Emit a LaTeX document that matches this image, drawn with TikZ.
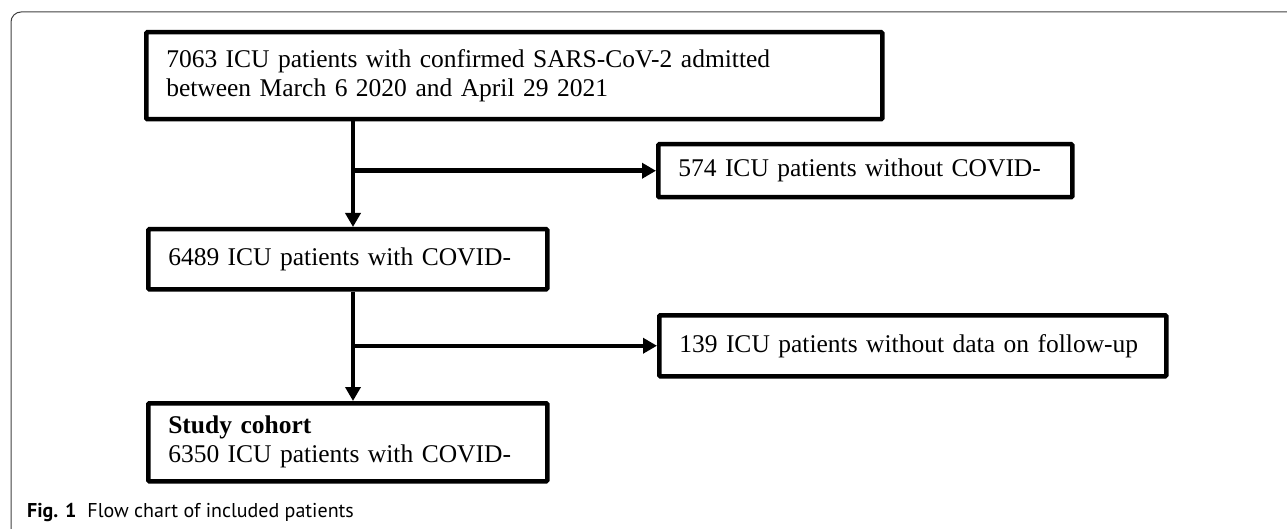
\documentclass[tikz,border=0pt]{standalone}
\usepackage{fontspec}
\setmainfont{Liberation Serif}
\newfontfamily\capfont{PT Sans}
\usetikzlibrary{arrows.meta}

\tikzset{
  box/.style={draw, line width=4.5pt, rounded corners=1pt, anchor=north west,
    align=left, inner xsep=20pt, inner ysep=0pt,
    font=\fontsize{25.5}{29}\selectfont},
  flow/.style={line width=4.5pt, -{Triangle[length=14pt,width=15pt]}},
}

\begin{document}
\begin{tikzpicture}[x=1pt,y=-1pt]
        \useasboundingbox (0,0) rectangle (1287,529);
        % Frame
        \draw[line width=1pt, black!75, rounded corners=10pt] (11,529) -- (11,12) -- (1287,12);
        % Boxes
        \node[box, text width=696pt, minimum height=87pt] (admitted) at (144,30)
            {7063 ICU patients with confirmed SARS-CoV-2 admitted\\between March 6 2020 and April 29 2021};
        \node[box, text width=374pt, minimum height=53pt] (nocovid) at (656,142)
            {574 ICU patients without COVID-};
        \node[box, text width=359pt, minimum height=60pt] (covid) at (146,227)
            {6489 ICU patients with COVID-};
        \node[box, text width=467pt, minimum height=61pt] (nofollow) at (657,313)
            {139 ICU patients without data on follow-up};
        \node[box, text width=359pt, minimum height=78pt] (cohort) at (146,401)
            {\textbf{Study cohort}\\6350 ICU patients with COVID-};
        % Arrows
        \coordinate (trunk) at (353,0);
        \draw[flow] (trunk |- admitted.south) -- (trunk |- covid.north);
        \draw[flow] (trunk |- nocovid.west) -- (nocovid.west);
        \draw[flow] (trunk |- covid.south) -- (trunk |- cohort.north);
        \draw[flow] (trunk |- nofollow.west) -- (nofollow.west);
        % Caption
        \node[anchor=base west, inner sep=0pt, font=\capfont\fontsize{20}{24}\selectfont] (caption) at (27,517)
            {\textbf{Fig. 1}\hspace{11pt}Flow chart of included patients};
\end{tikzpicture}
\end{document}
